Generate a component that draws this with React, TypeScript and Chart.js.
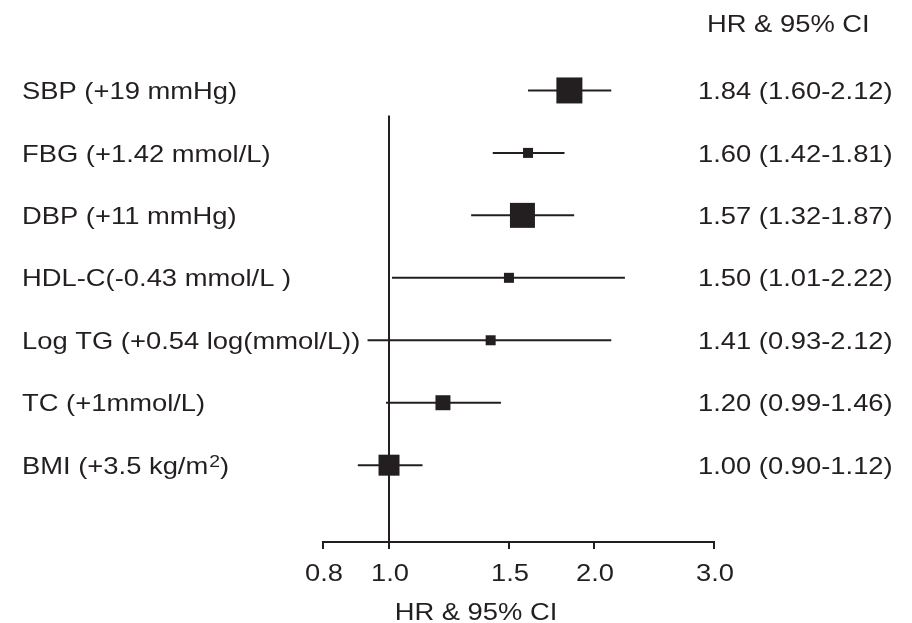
import React, { useEffect, useRef } from "react";
import { Chart, registerables } from "chart.js";

Chart.register(...registerables);

// ---------- data ----------
const labels = [
  "SBP (+19 mmHg)",
  "FBG (+1.42 mmol/L)",
  "DBP (+11 mmHg)",
  "HDL-C(-0.43 mmol/L )",
  "Log TG (+0.54 log(mmol/L))",
  "TC (+1mmol/L)",
  "BMI (+3.5 kg/m²)",
];
const hr = [1.84, 1.6, 1.57, 1.5, 1.41, 1.2, 1.0];
const lower = [1.6, 1.42, 1.32, 1.01, 0.93, 0.99, 0.9];
const upper = [2.12, 1.81, 1.87, 2.22, 2.12, 1.46, 1.12];
const weights = [26, 10, 25, 10, 10, 15, 21];
const xTicks = [0.8, 1.0, 1.5, 2.0, 3.0];
const xTickLabels = ["0.8", "1.0", "1.5", "2.0", "3.0"];
const headerText = "HR & 95% CI";
const axisTitle = "HR & 95% CI";

// ---------- styling constants ----------
const INK = "#231f20";
const FONT = '"Liberation Sans", Arial, Helvetica, sans-serif';
const FONT_SIZE = 24;
const STRETCH = 1.14;
const Y_MIN = -0.23;
const Y_MAX = 8;
const REF_TOP = 6.6;

const rowY = (i: number) => labels.length - i;

export default function App() {
  const ref = useRef<HTMLCanvasElement | null>(null);

  useEffect(() => {
    const canvas = ref.current;
    if (!canvas) return;

    const drawText = (
      ctx: CanvasRenderingContext2D,
      text: string,
      x: number,
      y: number,
      align: "left" | "center" = "left",
      size = FONT_SIZE
    ) => {
      ctx.font = `${size}px ${FONT}`;
      const w = ctx.measureText(text).width * STRETCH;
      let x0 = x;
      if (align === "center") x0 = x - w / 2;
      ctx.save();
      ctx.translate(x0, y);
      ctx.scale(STRETCH, 1);
      ctx.textAlign = "left";
      ctx.textBaseline = "alphabetic";
      ctx.fillText(text, 0, 0);
      ctx.restore();
      return w;
    };

    const textPlugin = {
      id: "forestText",
      afterDraw(chart: any) {
        const ctx: CanvasRenderingContext2D = chart.ctx;
        const xs = chart.scales.x;
        const ys = chart.scales.y;
        ctx.save();
        ctx.fillStyle = INK;
        const capHalf = (FONT_SIZE * 0.716) / 2;

        // header
        drawText(ctx, headerText, 707, 32);

        labels.forEach((lab, i) => {
          const y = ys.getPixelForValue(rowY(i)) + capHalf;
          // left label (with superscript handling)
          if (lab.includes("²")) {
            const [a, b] = lab.split("²");
            let x = 22;
            x += drawText(ctx, a, x, y);
            x += drawText(ctx, "2", x + 1, y - 7, "left", 17) + 1;
            drawText(ctx, b, x, y);
          } else {
            drawText(ctx, lab, 22, y);
          }
          // right column
          const txt = `${hr[i].toFixed(2)} (${lower[i].toFixed(2)}-${upper[i].toFixed(2)})`;
          drawText(ctx, txt, 698, y);
        });

        // x tick labels
        xTicks.forEach((v, k) => {
          const px = xs.getPixelForValue(v);
          drawText(ctx, xTickLabels[k], px + 1, 581, "center");
        });

        // axis title
        drawText(ctx, axisTitle, 476, 620, "center");
        ctx.restore();
      },
    };

    const ciDatasets = labels.map((_, i) => ({
      type: "line" as const,
      data: [
        { x: lower[i], y: rowY(i) },
        { x: upper[i], y: rowY(i) },
      ],
      borderColor: INK,
      borderWidth: 2,
      pointRadius: 0,
      showLine: true,
      clip: false as any,
    }));

    const chart = new Chart(canvas, {
      type: "scatter",
      data: {
        datasets: [
          {
            type: "scatter",
            data: hr.map((v, i) => ({ x: v, y: rowY(i) })),
            pointStyle: "rect",
            pointRadius: weights.map((w) => w / Math.SQRT2),
            pointHoverRadius: weights.map((w) => w / Math.SQRT2),
            backgroundColor: INK,
            borderColor: INK,
            borderWidth: 0,
            clip: false as any,
          },
          ...ciDatasets,
          {
            type: "line",
            data: [
              { x: 1, y: Y_MIN },
              { x: 1, y: REF_TOP },
            ],
            borderColor: INK,
            borderWidth: 2,
            pointRadius: 0,
            showLine: true,
            clip: false as any,
          },
        ] as any,
      },
      options: {
        animation: false,
        responsive: false,
        maintainAspectRatio: false,
        layout: { padding: { left: 323, right: 198, top: 28, bottom: 74 } },
        plugins: {
          legend: { display: false },
          tooltip: { enabled: false },
          title: { display: false },
        },
        scales: {
          x: {
            type: "logarithmic",
            min: 0.8,
            max: 3,
            afterBuildTicks: (s: any) => {
              s.ticks = xTicks.map((v) => ({ value: v }));
            },
            ticks: { display: false },
            grid: {
              display: true,
              drawOnChartArea: false,
              drawTicks: true,
              tickLength: 7,
              color: INK,
              lineWidth: 2,
            },
            border: { display: true, color: INK, width: 2 },
            title: { display: false },
          },
          y: {
            type: "linear",
            min: Y_MIN,
            max: Y_MAX,
            display: false,
          },
        },
      } as any,
      plugins: [textPlugin],
    });

    return () => chart.destroy();
  }, []);

  return (
    <div style={{ position: "absolute", left: 0, top: 0, width: 912, height: 623, background: "#fff" }}>
      <canvas ref={ref} width={912} height={623} style={{ display: "block" }} />
    </div>
  );
}
